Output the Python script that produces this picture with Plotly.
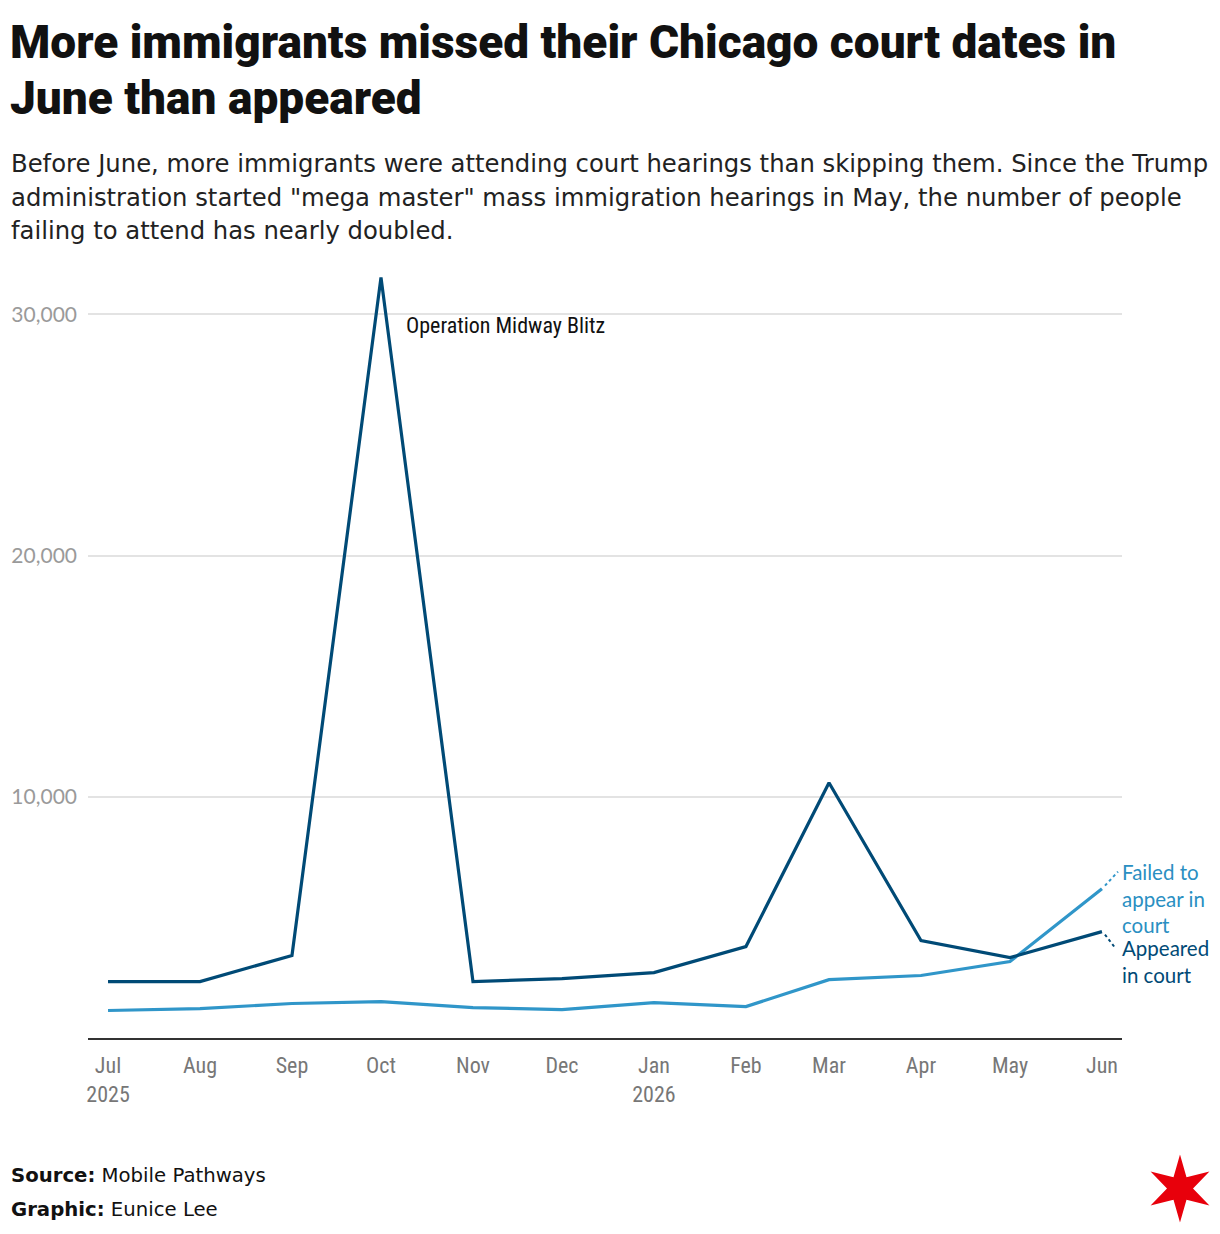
import numpy as np
import plotly.graph_objects as go

# ---------------- data ----------------
months = ["2025-07-01", "2025-08-01", "2025-09-01", "2025-10-01", "2025-11-01", "2025-12-01",
          "2026-01-01", "2026-02-01", "2026-03-01", "2026-04-01", "2026-05-01", "2026-06-01"]
tick_text = ["Jul<br>2025", "Aug", "Sep", "Oct", "Nov", "Dec",
             "Jan<br>2026", "Feb", "Mar", "Apr", "May", "Jun"]
appeared = [2340, 2340, 3420, 31530, 2340, 2460, 2710, 3790, 10580, 4040, 3330, 4410]
failed = [1140, 1220, 1430, 1510, 1260, 1180, 1470, 1300, 2420, 2590, 3170, 6190]
y_ticks = [10000, 20000, 30000]
y_tick_text = ["10,000", "20,000", "30,000"]

title_lines = ["More immigrants missed their Chicago court dates in", "June than appeared"]
subtitle_lines = [
    "Before June, more immigrants were attending court hearings than skipping them. Since the Trump",
    "administration started \"mega master\" mass immigration hearings in May, the number of people",
    "failing to attend has nearly doubled.",
]

DARK = "#004a76"
LIGHT = "#3096c9"
LIGHT_TXT = "#2a8fc2"

W, H = 1220, 1234
L, R, T, B = 88, 1122, 266, 1038.5


def px(x):
    return (x - L) / (R - L)


def py(y):
    return (B - y) / (B - T)


TITLE_FONT = "Roboto, Lato, sans-serif"
BODY_FONT = "'DejaVu Sans', 'Open Sans', sans-serif"
LABEL_FONT = "Lato, 'Open Sans', sans-serif"
COND_FONT = "'Roboto Condensed', 'Liberation Sans Narrow', Roboto, sans-serif"

fig = go.Figure()
fig.add_trace(go.Scatter(x=months, y=failed, mode="lines",
                         line=dict(color=LIGHT, width=3.2), hoverinfo="skip"))
fig.add_trace(go.Scatter(x=months, y=appeared, mode="lines",
                         line=dict(color=DARK, width=3.2), hoverinfo="skip"))

ann = []
for i, t in enumerate(title_lines):
    ann.append(dict(text=t, x=px(8), y=py([42, 98][i]), xref="paper", yref="paper",
                    xanchor="left", yanchor="middle", showarrow=False,
                    font=dict(family=TITLE_FONT, size=46, color="#111111", weight=900)))
for i, t in enumerate(subtitle_lines):
    ann.append(dict(text=t, x=px(9), y=py([163.5, 197, 230.5][i]), xref="paper", yref="paper",
                    xanchor="left", yanchor="middle", showarrow=False,
                    font=dict(family=BODY_FONT, size=24.3, color="#222222")))
ann.append(dict(text="<b>Source:</b> Mobile Pathways", x=px(9), y=py(1176), xref="paper",
                yref="paper", xanchor="left", yanchor="middle", showarrow=False,
                font=dict(family=BODY_FONT, size=19.7, color="#111111")))
ann.append(dict(text="<b>Graphic:</b> Eunice Lee", x=px(9), y=py(1210), xref="paper",
                yref="paper", xanchor="left", yanchor="middle", showarrow=False,
                font=dict(family=BODY_FONT, size=19.7, color="#111111")))
ann.append(dict(text="Operation Midway Blitz", x=px(404), y=py(326), xref="paper",
                yref="paper", xanchor="left", yanchor="middle", showarrow=False,
                font=dict(family=COND_FONT, size=22, color="#111111")))
ann.append(dict(text="Failed to<br>appear in<br>court", x=px(1120), y=py(899), xref="paper",
                yref="paper", xanchor="left", yanchor="middle", align="left", showarrow=False,
                font=dict(family=LABEL_FONT, size=20.5, color=LIGHT_TXT)))
ann.append(dict(text="Appeared<br>in court", x=px(1120), y=py(962), xref="paper",
                yref="paper", xanchor="left", yanchor="middle", align="left", showarrow=False,
                font=dict(family=LABEL_FONT, size=20.5, color=DARK)))

shapes = []
# dotted connectors from line ends to labels
shapes.append(dict(type="line", xref="x", yref="y", xsizemode="pixel", ysizemode="pixel",
                   xanchor=months[-1], yanchor=failed[-1], x0=3, y0=3, x1=16, y1=17,
                   line=dict(color=LIGHT, width=2, dash="dot")))
shapes.append(dict(type="line", xref="x", yref="y", xsizemode="pixel", ysizemode="pixel",
                   xanchor=months[-1], yanchor=appeared[-1], x0=3, y0=-3, x1=13, y1=-16,
                   line=dict(color=DARK, width=2, dash="dot")))

# Chicago star
cx, cy, ro, ri = 1180, 1189, 34, 13
pts = []
for k in range(12):
    ang = np.pi / 2 + k * np.pi / 6
    r = ro if k % 2 == 0 else ri
    pts.append((px(cx + r * np.cos(ang)), py(cy - r * np.sin(ang))))
path = "M " + " L ".join(f"{a:.5f},{b:.5f}" for a, b in pts) + " Z"
shapes.append(dict(type="path", xref="paper", yref="paper", path=path,
                   fillcolor="#e8000b", line=dict(width=0)))

fig.update_layout(
    width=W, height=H,
    margin=dict(l=L, r=W - R, t=T, b=H - B, pad=0),
    paper_bgcolor="white", plot_bgcolor="white",
    showlegend=False, hovermode=False,
    annotations=ann, shapes=shapes,
    xaxis=dict(type="date", range=["2025-06-24 06:00", "2026-06-07 18:00"],
               tickvals=months, ticktext=tick_text, showgrid=False, zeroline=False,
               showline=True, linecolor="#333333", linewidth=2, ticks="",
               ticklabelstandoff=7,
               tickfont=dict(family=COND_FONT, size=22, color="#777777")),
    yaxis=dict(range=[0, 32000], tickvals=y_ticks, ticktext=y_tick_text,
               showgrid=True, gridcolor="#e3e3e3", gridwidth=2, zeroline=False,
               showline=False, ticks="", ticklabelstandoff=10,
               tickfont=dict(family=LABEL_FONT, size=21, color="#9a9a9a")),
)

fig.write_html("out.html")
